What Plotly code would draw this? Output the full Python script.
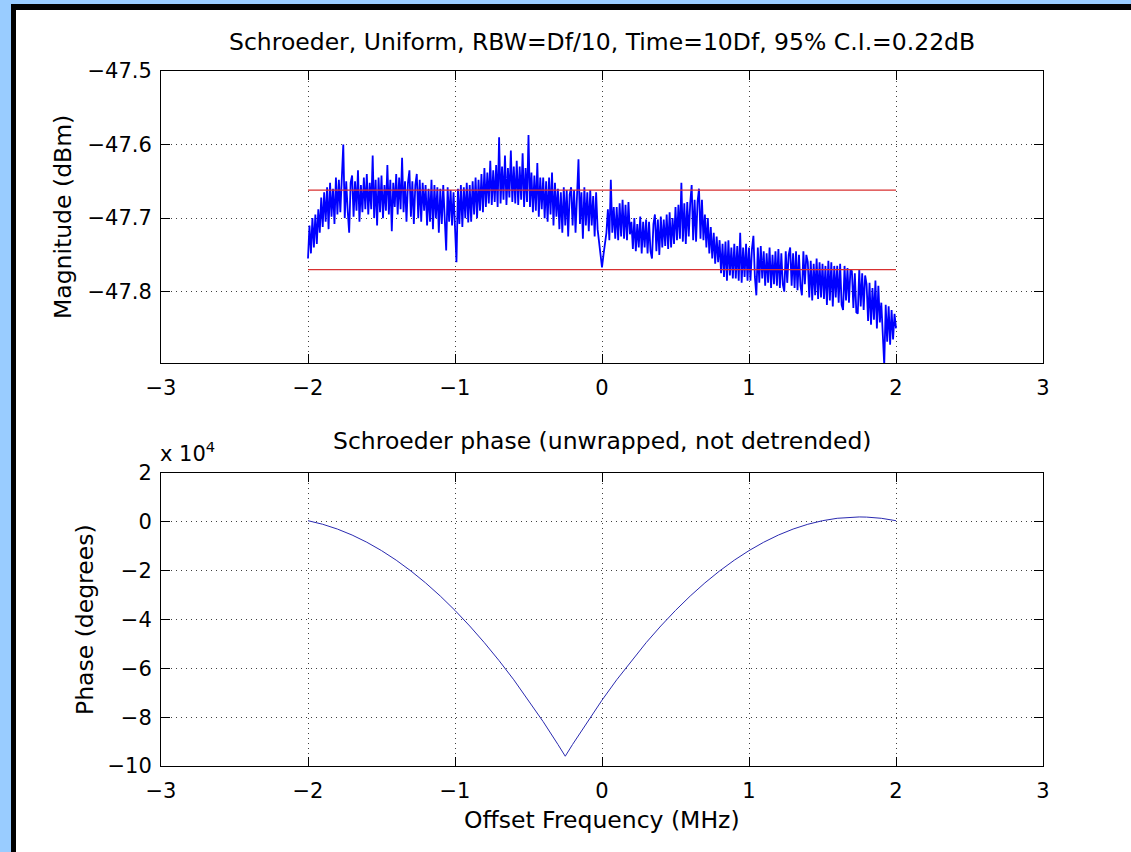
import numpy as np
import plotly.graph_objects as go

W, H = 1131, 852

# ---------------- data ----------------
freq_start, freq_stop, n_bins = -2.0, 2.0, 401
# magnitude as offset from -47.7 dBm, in milli-dB
mag_offset_mdb = [
    -55, -10, -48, 0, -40, 5, -35, 12, -20, 28,
    -12, 35, -5, 42, -15, 48, 2, 40, -8, 55,
    5, 52, 8, 58, 100, 0, 50, 10, -20, 48,
    58, 2, 50, 10, 65, -5, 45, 8, 55, 12,
    60, 5, 48, 12, 85, 0, 52, -10, 55, 8,
    58, 0, 45, 10, 72, 5, 52, -18, 48, 15,
    60, 5, 55, 12, 82, 8, 50, -5, 48, 65,
    2, 50, -8, 45, 60, 0, 52, -5, 48, 10,
    45, -10, 40, -5, 52, -15, 45, 0, 42, -20,
    40, -8, 45, 0, -44, 42, -5, 38, -10, 35,
    -5, -60, 40, -8, 45, -12, 42, 0, 48, -6,
    45, -5, 50, 5, 55, 0, 52, 10, 60, 8,
    68, 15, 62, 20, 78, 18, 65, 22, 72, 15,
    110, 20, 70, 25, 85, 18, 68, 28, 92, 22,
    70, 20, 78, 18, 70, 25, 88, 15, 68, 22,
    113, 15, 62, 8, 58, 10, 75, 2, 55, 12,
    55, 0, 50, -5, 55, 5, 62, -10, 48, 2,
    40, -15, 35, -20, 42, -10, 38, -25, 32, 42,
    -10, 38, -20, 40, 80, -8, 35, -28, 42, -10,
    35, -18, 38, -10, 30, -25, 35, -15, -30, -45,
    -67, -50, -30, -20, 12, -30, 52, -20, 15, -28,
    15, -30, 20, -25, 25, -28, 18, -30, 22, -22,
    -5, -42, 0, -45, -8, -40, 2, -48, -5, -40,
    -2, -48, -5, -45, -55, -8, 5, -45, -2, -50,
    2, -40, -2, -38, 5, -42, 8, -40, 0, -35,
    15, -30, 18, -28, 48, -32, 20, -35, 22, -25,
    20, 45, -30, 25, -32, 22, 40, -28, 25, -30,
    5, -40, 0, -48, -12, -55, -20, -62, -25, -60,
    -30, -75, -35, -80, -32, -85, -30, -78, -40, -82,
    -35, -82, -38, -85, -20, -88, -40, -80, -35, -85,
    -40, -85, -42, -24, -80, -105, -40, -88, -38, -82,
    -45, -92, -48, -88, -40, -95, -50, -90, -45, -92,
    -42, -95, -48, -90, -100, -45, -88, -50, -40, -92,
    -48, -95, -45, -98, -50, -92, -105, -45, -90, -50,
    -60, -108, -58, -112, -62, -105, -55, -110, -60, -108,
    -62, -110, -65, -118, -58, -112, -60, -120, -65, -108,
    -65, -115, -62, -118, -125, -65, -112, -68, -115, -70,
    -72, -122, -75, -128, -130, -70, -120, -75, -125, -78,
    -90, -140, -88, -145, -95, -138, -85, -150, -92, -142,
    -115, -165, -200, -118, -168, -120, -172, -125, -165, -130,
    -150,
]
mag_ref_dbm = -47.7
ci_freq = [-2.0, 2.0]
ci_upper = [-47.662, -47.662]
ci_lower = [-47.770, -47.770]

phase_freq = [-2.0, -1.9, -1.8, -1.7, -1.6, -1.5, -1.4, -1.3, -1.2, -1.1, -1.0,
              -0.9, -0.8, -0.7, -0.6, -0.5, -0.4, -0.3, -0.25, -0.2, -0.1, 0.0,
              0.1, 0.2, 0.3, 0.4, 0.5, 0.6, 0.7, 0.8, 0.9, 1.0, 1.1, 1.2, 1.3,
              1.4, 1.5, 1.6, 1.7, 1.75, 1.8, 1.9, 2.0]
phase_deg = [470, -1000, -2960, -5410, -8350, -11780, -15700, -20110, -25010,
             -30400, -36280, -42650, -49510, -56860, -64700, -73030, -81850,
             -91160, -96000, -91160, -81850, -73030, -64700, -56860, -49510,
             -42650, -36280, -30400, -25010, -20110, -15700, -11780, -8350,
             -5410, -2960, -1000, 470, 1450, 1940, 2000, 1940, 1450, 470]

x_ticks = [-3, -2, -1, 0, 1, 2, 3]
mag_ticks = [-47.8, -47.7, -47.6, -47.5]
phase_tickvals = [-100000, -80000, -60000, -40000, -20000, 0, 20000]
phase_ticktext = ["\u221210", "\u22128", "\u22126", "\u22124", "\u22122", "0", "2"]

# ---------------- figure ----------------
mag_freq = np.linspace(freq_start, freq_stop, n_bins)
mag_dbm = mag_ref_dbm + np.array(mag_offset_mdb) / 1000.0

FONT = "DejaVu Sans"
FS_TICK = 21
FS_TITLE = 23.5

def px(xp):
    return xp / W

def py(yp):
    return 1 - yp / H

fig = go.Figure()
fig.add_trace(go.Scatter(x=mag_freq, y=mag_dbm, mode="lines",
                         line=dict(color="#0000ff", width=1.8),
                         xaxis="x", yaxis="y", showlegend=False))
fig.add_trace(go.Scatter(x=ci_freq, y=ci_upper, mode="lines",
                         line=dict(color="#d83030", width=1.2),
                         xaxis="x", yaxis="y", showlegend=False))
fig.add_trace(go.Scatter(x=ci_freq, y=ci_lower, mode="lines",
                         line=dict(color="#d83030", width=1.2),
                         xaxis="x", yaxis="y", showlegend=False))
fig.add_trace(go.Scatter(x=phase_freq, y=phase_deg, mode="lines",
                         line=dict(color="#2a2ab0", width=1),
                         xaxis="x2", yaxis="y2", showlegend=False))

axis_common = dict(
    automargin=False,
    showline=True, linecolor="black", linewidth=1, mirror="ticks",
    ticks="inside", ticklen=9, tickwidth=1, tickcolor="black",
    showgrid=True, gridcolor="rgba(0,0,0,0.75)", gridwidth=1, griddash="1px,4px",
    zeroline=False, tickfont=dict(family=FONT, size=FS_TICK, color="black"),
)

x_dom = [px(161), px(1043)]
fig.update_layout(
    width=W, height=H,
    margin=dict(l=0, r=0, t=0, b=0, pad=0),
    paper_bgcolor="white", plot_bgcolor="white",
    font=dict(family=FONT, size=FS_TICK, color="black"),
    hovermode=False,
    xaxis=dict(axis_common, domain=x_dom, anchor="y", range=[-3, 3],
               tickvals=x_ticks, ticklabelstandoff=6),
    yaxis=dict(axis_common, domain=[py(363), py(71)], anchor="x",
               range=[-47.897, -47.5], tickvals=mag_ticks, tickformat=".1f",
               ticklabelstandoff=4),
    xaxis2=dict(axis_common, domain=x_dom, anchor="y2", range=[-3, 3],
                tickvals=x_ticks, ticklabelstandoff=6),
    yaxis2=dict(axis_common, domain=[py(766), py(473)], anchor="x2",
                range=[-100000, 20000], tickvals=phase_tickvals,
                ticktext=phase_ticktext, ticklabelstandoff=4),
)

annotations = [
    dict(text="Schroeder, Uniform, RBW=Df/10, Time=10Df, 95% C.I.=0.22dB",
         x=px(602), y=py(42), xanchor="center", yanchor="middle"),
    dict(text="Schroeder phase (unwrapped, not detrended)",
         x=px(602), y=py(441), xanchor="center", yanchor="middle"),
    dict(text="Offset Frequency (MHz)",
         x=px(602), y=py(820), xanchor="center", yanchor="middle"),
    dict(text="Magnitude (dBm)", textangle=-90,
         x=px(63), y=py(217), xanchor="center", yanchor="middle"),
    dict(text="Phase (degrees)", textangle=-90,
         x=px(85), y=py(620), xanchor="center", yanchor="middle"),
    dict(text="x 10<sup>4</sup>",
         x=px(158), y=py(468), xanchor="left", yanchor="bottom", size=FS_TICK),
]
for a in annotations:
    size = a.pop("size", FS_TITLE)
    a.update(xref="paper", yref="paper", showarrow=False,
             font=dict(family=FONT, size=size, color="black"))
fig.update_layout(annotations=annotations)

# window frame (light blue outer edge, black inner edge)
shapes = [
    dict(type="rect", x0=0, x1=px(11), y0=0, y1=1, fillcolor="#99ccff", line_width=0),
    dict(type="rect", x0=0, x1=1, y0=py(4), y1=1, fillcolor="#99ccff", line_width=0),
    dict(type="rect", x0=px(11), x1=px(16), y0=0, y1=py(4), fillcolor="black", line_width=0),
    dict(type="rect", x0=px(11), x1=1, y0=py(10), y1=py(4), fillcolor="black", line_width=0),
]
for s in shapes:
    s.update(xref="paper", yref="paper", layer="above")
fig.update_layout(shapes=shapes)

fig.write_html("out.html",
               config={"displayModeBar": False, "staticPlot": True},
               post_script="document.body.style.margin='0px';")
